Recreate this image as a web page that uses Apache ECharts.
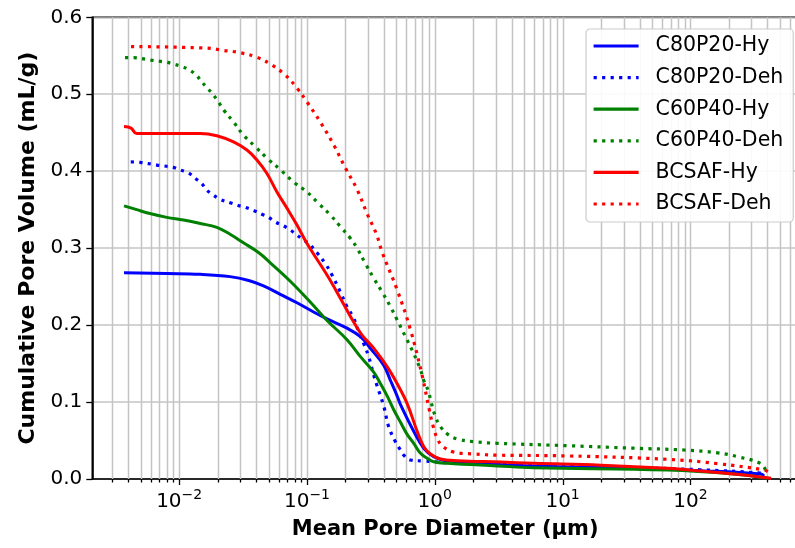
<!DOCTYPE html>
<html><head><meta charset="utf-8">
<script src="https://cdn.jsdelivr.net/npm/echarts@6/dist/echarts.min.js"></script>
<style>html,body{margin:0;padding:0;background:#fff}#c{width:795px;height:548px}</style>
</head><body><div id="c"></div>
<script>
// ---- data ----
const seriesNames = ['C80P20-Hy','C80P20-Deh','C60P40-Hy','C60P40-Deh','BCSAF-Hy','BCSAF-Deh'];
const xTickExponents = [-2,-1,0,1,2];
const yTickLabels = ['0.0','0.1','0.2','0.3','0.4','0.5','0.6'];

const c80HyD = [0.0037,0.008,0.0146,0.025,0.035,0.0457,0.0618,0.0835,0.1126,0.1435,0.2057,0.2618,0.313,0.398,0.45,0.507,0.538,0.684,0.82,0.98,1.25,2.28,5.9,36,121,357,377];
const c80HyV = [0.268,0.267,0.266,0.263,0.258,0.251,0.240,0.229,0.217,0.208,0.196,0.185,0.170,0.148,0.128,0.108,0.097,0.062,0.040,0.029,0.0234,0.0204,0.017,0.014,0.0108,0.0065,0.004];

const c80DehD = [0.00418,0.00494,0.00667,0.009,0.0102,0.0118,0.0133,0.015,0.0164,0.0185,0.0209,0.025,0.0283,0.0328,0.0382,0.0444,0.050,0.0565,0.0656,0.074,0.0835,0.094,0.103,0.1198,0.139,0.157,0.1824,0.2057,0.2318,0.2537,0.2778,0.304,0.3326,0.3538,0.3982,0.4357,0.492,0.5384,0.5715,0.6449,0.82,0.98,1.3,3,20,120,357,380];
const c80DehV = [0.412,0.4115,0.408,0.405,0.4016,0.398,0.391,0.384,0.3756,0.369,0.3635,0.359,0.356,0.353,0.349,0.344,0.340,0.334,0.329,0.3236,0.317,0.3106,0.306,0.294,0.280,0.265,0.243,0.224,0.209,0.191,0.176,0.159,0.135,0.121,0.095,0.068,0.0485,0.0377,0.031,0.0247,0.0234,0.0225,0.021,0.019,0.016,0.012,0.0075,0.005];

const c60HyD = [0.0037,0.00465,0.0059,0.008,0.0108,0.0146,0.0197,0.025,0.0318,0.042,0.0516,0.074,0.106,0.1435,0.2057,0.2618,0.3326,0.375,0.4236,0.477,0.538,0.6077,0.6843,0.7727,0.8718,0.98,1.25,3.08,5.9,66,219,403];
const c60HyV = [0.355,0.350,0.345,0.340,0.3365,0.332,0.327,0.318,0.307,0.294,0.281,0.257,0.230,0.206,0.181,0.159,0.139,0.124,0.108,0.090,0.074,0.058,0.0464,0.0334,0.027,0.0225,0.0204,0.017,0.0147,0.0117,0.0065,0.001];

const c60DehD = [0.00377,0.00438,0.0059,0.008,0.00912,0.01047,0.01217,0.01374,0.01503,0.01663,0.01853,0.02028,0.0222,0.0266,0.0318,0.0394,0.0486,0.0618,0.0785,0.1,0.1233,0.1524,0.1824,0.2184,0.2466,0.2864,0.3326,0.3873,0.4497,0.507,0.5892,0.6843,0.7727,0.82,0.8975,0.9253,1.0127,1.108,1.288,1.498,2.02,3.08,10.9,36,89,163,234,357,391];
const c60DehV = [0.5475,0.5475,0.5445,0.5415,0.539,0.536,0.531,0.524,0.516,0.508,0.499,0.490,0.480,0.464,0.447,0.432,0.417,0.402,0.386,0.373,0.358,0.343,0.328,0.313,0.300,0.280,0.261,0.243,0.224,0.207,0.185,0.163,0.142,0.128,0.113,0.103,0.081,0.068,0.057,0.052,0.0485,0.0464,0.0433,0.040,0.0377,0.034,0.029,0.020,0.0095];

const bcsHyD = [0.0037,0.0042,0.00465,0.0146,0.0197,0.0266,0.0339,0.0406,0.0486,0.0582,0.0697,0.0835,0.1,0.1435,0.1824,0.2318,0.2698,0.3326,0.4236,0.507,0.6077,0.7278,0.8203,0.9253,1.108,1.5,3.27,5.94,19.9,66,121,219,428];
const bcsHyV = [0.458,0.456,0.449,0.449,0.446,0.438,0.4275,0.4146,0.397,0.373,0.352,0.330,0.306,0.265,0.235,0.204,0.187,0.170,0.146,0.124,0.098,0.062,0.042,0.0325,0.026,0.0238,0.022,0.0204,0.018,0.0139,0.0104,0.0065,0.001];

const bcsDehD = [0.0042,0.0164,0.0221,0.030,0.0406,0.0532,0.0676,0.0835,0.1,0.127,0.162,0.200,0.247,0.295,0.35,0.387,0.507,0.645,0.80,0.90,0.98,1.05,1.143,1.40,2.01,3.08,10.9,66,163,379,403];
const bcsDehV = [0.562,0.560,0.557,0.554,0.548,0.538,0.525,0.508,0.490,0.464,0.434,0.404,0.376,0.345,0.318,0.295,0.246,0.194,0.133,0.092,0.066,0.052,0.043,0.035,0.0325,0.031,0.030,0.0256,0.020,0.0117,0.0095];

// ---- build ----
const FONT = 'DejaVu Sans';
const xMin = 0.00209, xMax = 695;
function pairs(d, v){ return d.map((x,i)=>[x, v[i]]); }

// vertical grid lines & ticks at every 1..9 x 10^k inside the range
const gridTicks = [];
for (let k = -3; k <= 2; k++) {
  for (let m = 1; m <= 9; m++) {
    const val = m * Math.pow(10, k);
    if (val >= xMin && val <= xMax) gridTicks.push([val, 0.3, m === 1 ? 1 : 0]);
  }
}

const chart = echarts.init(document.getElementById('c'), null, {renderer:'canvas'});

const lineDefs = [
  {name: seriesNames[0], data: pairs(c80HyD, c80HyV), color:'#0000ff', dotted:false},
  {name: seriesNames[1], data: pairs(c80DehD, c80DehV), color:'#0000ff', dotted:true},
  {name: seriesNames[2], data: pairs(c60HyD, c60HyV), color:'#008000', dotted:false},
  {name: seriesNames[3], data: pairs(c60DehD, c60DehV), color:'#008000', dotted:true},
  {name: seriesNames[4], data: pairs(bcsHyD, bcsHyV), color:'#ff0000', dotted:false},
  {name: seriesNames[5], data: pairs(bcsDehD, bcsDehV), color:'#ff0000', dotted:true}
];

const series = [{
  type:'custom', name:'_grid', silent:true, z:1, clip:false,
  encode:{x:0, y:1},
  data: gridTicks,
  renderItem: function(params, api){
    const p = api.coord([api.value(0), api.value(1)]);
    const cs = params.coordSys;
    const x = Math.round(p[0]) + 0.5;
    const bottom = cs.y + cs.height;
    const major = api.value(2) === 1;
    return {type:'group', children:[
      {type:'line', shape:{x1:x, y1:cs.y, x2:x, y2:bottom}, style:{stroke:'#c4c4c4', lineWidth:1.5}, z2:0},
      {type:'line', shape:{x1:x, y1:bottom, x2:x, y2:bottom + (major ? 6 : 3.5)}, style:{stroke:'#000', lineWidth:1.3}}
    ]};
  }
}];
lineDefs.forEach(d => series.push({
  type:'line', name:d.name, data:d.data, symbol:'none', z:3,
  smooth:0.4,
  color:d.color,
  itemStyle:{color:d.color},
  lineStyle:{color:d.color, width: d.dotted ? 3.2 : 3, type: d.dotted ? [3.2, 5.3] : 'solid', cap:'butt', join:'round'},
  emphasis:{disabled:true}
}));

chart.setOption({
  animation:false,
  backgroundColor:'#ffffff',
  grid:{left:92.3, right:-3, top:17.3, bottom:69, containLabel:false, outerBoundsMode:'none',
        show:true, borderColor:'#000', borderWidth:1.6, backgroundColor:'transparent'},
  legend:{
    data: seriesNames, orient:'vertical', left:586, top:29,
    itemWidth:45, itemHeight:14, itemGap:7.6,
    padding:[5, 10, 6, 6],
    itemStyle:{opacity:0},
    lineStyle:{opacity:1, width:3.2},
    backgroundColor:'rgba(255,255,255,0.9)', borderColor:'#cccccc', borderWidth:1.2, borderRadius:4,
    textStyle:{fontFamily:FONT, fontSize:20.5, color:'#000', lineHeight:24, padding:[0,0,0,12]},
    selectedMode:false
  },
  xAxis:{
    type:'log', logBase:10, min:xMin, max:xMax,
    name:'Mean Pore Diameter (\u00b5m)', nameLocation:'middle', nameGap:40,
    nameTextStyle:{fontFamily:FONT, fontSize:21, fontWeight:'bold', color:'#000'},
    axisLine:{show:true, lineStyle:{color:'#000', width:1.6}},
    axisTick:{show:false}, minorTick:{show:false},
    splitLine:{show:false},
    axisLabel:{
      margin:9, color:'#000', fontFamily:FONT,
      showMinLabel:false, showMaxLabel:false,
      formatter:function(v){
        const l = Math.log10(v), r = Math.round(l);
        if (Math.abs(l - r) > 1e-6 || xTickExponents.indexOf(r) < 0) return '';
        return '{b|10}{s|' + (r < 0 ? '\u2212' : '') + Math.abs(r) + '}';
      },
      rich:{
        b:{fontFamily:FONT, fontSize:20, color:'#000', lineHeight:28},
        s:{fontFamily:FONT, fontSize:14, color:'#000', lineHeight:14, verticalAlign:'top'}
      }
    }
  },
  yAxis:{
    type:'value', min:0, max:0.6, interval:0.1,
    name:'Cumulative Pore Volume (mL/g)', nameLocation:'middle', nameGap:53, nameRotate:90,
    nameTextStyle:{fontFamily:FONT, fontSize:22, fontWeight:'bold', color:'#000'},
    axisLine:{show:true, lineStyle:{color:'#000', width:1.6}},
    axisTick:{show:true, inside:false, length:6, lineStyle:{color:'#000', width:1.3}},
    splitLine:{show:true, lineStyle:{color:'#c4c4c4', width:1.5}},
    axisLabel:{margin:10, color:'#000', fontFamily:FONT, fontSize:20,
      formatter:function(v){ return yTickLabels[Math.round(v*10)]; }}
  },
  series: series
});
</script>
</body></html>
